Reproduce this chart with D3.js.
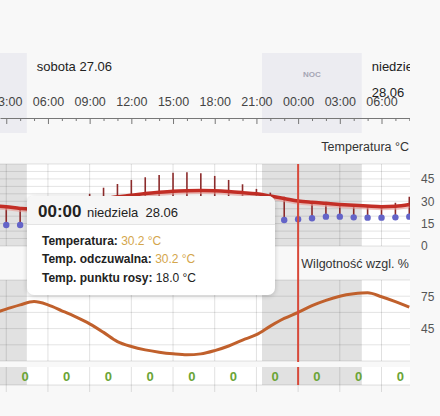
<!DOCTYPE html>
<html>
<head>
<meta charset="utf-8">
<script src="https://cdn.jsdelivr.net/npm/d3@7"></script>
<style>
body { margin: 0; background: #f8f8f8; font-family: "Liberation Sans", Arial, sans-serif; }
#chart { position: relative; width: 440px; height: 416px; overflow: hidden; }
.tip { position: absolute; left: 27px; top: 196px; width: 248px; height: 99px; background: #fff;
       border-radius: 7px; box-shadow: 0 1px 5px rgba(0,0,0,.2); overflow: hidden; color: #222; }
.tip .head { height: 28px; background: #f6f6f6; border-bottom: 1px solid #e4e4e4; position: relative; }
.tip .hour { position: absolute; left: 11px; top: 6px; font-size: 17px; font-weight: bold; }
.tip .day { position: absolute; left: 60px; top: 9px; font-size: 13px; }
.tip .row { position: absolute; left: 15px; font-size: 12px; }
.tip .row b { color: #222; }
.tip .gold { color: #d4a64c; }
</style>
</head>
<body>
<div id="chart"></div>
<script>
// hours since 27.06 00:00
const hours = [2,3,4,5,6,7,8,9,10,11,12,13,14,15,16,17,18,19,20,21,22,23,24,25,26,27,28,29,30,31,32];
const temp = [27.0,26.3,25.2,24.6,25.5,27.0,28.5,30.0,31.5,33.0,34.0,35.2,36.1,36.8,37.1,37.2,37.0,36.5,35.8,35.0,33.5,31.9,30.2,29.3,28.6,27.9,27.3,26.8,26.4,26.6,27.8];
const feels = [27.0,26.3,25.2,24.6,25.5,27.2,30.0,35.0,39.1,41.6,44.3,46.1,47.7,49.2,49.4,48.8,47.0,44.3,41.4,38.3,35.8,33.0,30.2,29.3,28.6,27.9,27.3,26.8,27.5,29.0,33.0];
const dew = [14.3,14.1,14.1,14.3,14.8,15.2,15.5,15.6,15.5,15.3,15.0,14.8,14.6,14.5,14.6,14.9,15.3,15.8,16.3,16.8,17.2,17.4,18.0,18.6,19.7,19.7,19.2,19.0,19.0,19.2,19.7];
const humidity = [59,63,67,70,67,61.5,55.8,49.4,41.5,33,28.4,25.3,23.2,21.7,20.8,21.6,24.6,28.9,34.4,39.4,47.3,54.4,60,66.3,71.2,75,77.2,78.2,74.5,70,64.9];

const precipHours = [3,6,9,12,15,18,21,24,27,30];
const precip = [0,0,0,0,0,0,0,0,0,0];

// nights: [start, end] in hours since 27.06 00:00
const nights = [[-3, 4.48], [21.4, 28.58]];
const dayLabels = [["sobota 27.06"], ["niedziela", "28.06"]];
const dayStarts = [4.48, 28.58];

const tempTicks = [0,15,30,45];
const humTicks = [45,75];

const t0 = new Date(2020, 5, 27, 0, 0);
const at = h => new Date(t0.getTime() + h * 3600e3);
const now = at(24);

const W = 410;
const x = d3.scaleTime().domain([at(2.55), at(32.05)]).range([0, W]);

const svg = d3.select("#chart").append("svg").attr("width", 440).attr("height", 416)
  .style("font-family", '"Liberation Sans", Arial, sans-serif');

svg.append("clipPath").attr("id", "clip").append("rect").attr("x", 0).attr("y", 0).attr("width", W).attr("height", 416);

// ---- header with dates and time axis
const head = svg.append("g").attr("clip-path", "url(#clip)");
head.selectAll("rect.night").data(nights).enter().append("rect")
  .attr("x", d => x(at(d[0]))).attr("width", d => x(at(d[1])) - x(at(d[0])))
  .attr("y", 53).attr("height", 80).attr("fill", "#ececf1");
head.selectAll("text.noc").data(nights.filter(d => x(at(d[0])) > 0)).enter().append("text")
  .attr("x", d => (x(at(d[0])) + x(at(d[1]))) / 2).attr("y", 77)
  .attr("text-anchor", "middle").attr("font-size", 8).attr("font-weight", "bold")
  .attr("fill", "#a5a5b4").text("NOC");

dayLabels.forEach((lines, i) => {
  const t = head.append("text").attr("x", x(at(dayStarts[i])) + 10).attr("font-size", 13).attr("fill", "#222");
  lines.forEach((l, j) => t.append("tspan").attr("x", x(at(dayStarts[i])) + 10).attr("y", 70.5 + j * 26).text(l));
});

const ticksG = head.append("g").attr("transform", "translate(0,118)")
  .call(d3.axisBottom(x).ticks(d3.timeHour.every(1)).tickSize(3).tickSizeOuter(0).tickFormat(""));
ticksG.select(".domain").attr("stroke", "#777");
ticksG.selectAll(".tick line").attr("stroke", "#777")
  .attr("y2", d => d.getHours() % 3 === 0 ? 6 : 3);

const labelsG = svg.append("g").attr("transform", "translate(0,118)")
  .call(d3.axisTop(x).ticks(d3.timeHour.every(3)).tickSize(0).tickPadding(12).tickFormat(d3.timeFormat("%H:%M")));
labelsG.select(".domain").remove();
labelsG.selectAll("text").attr("font-size", 12.5).attr("fill", "#444").attr("font-family", null);

// ---- panel helper
const grid3h = x.ticks(d3.timeHour.every(3));

function panel(top, bottom, y, gridVals) {
  const g = svg.append("g").attr("clip-path", "url(#clip)");
  g.append("rect").attr("x", 0).attr("y", top).attr("width", W).attr("height", bottom - top).attr("fill", "#fff");
  g.selectAll("rect.night").data(nights).enter().append("rect")
    .attr("x", d => x(at(d[0]))).attr("width", d => x(at(d[1])) - x(at(d[0])))
    .attr("y", top).attr("height", bottom - top).attr("fill", "#e1e1e1");
  if (gridVals) {
    g.selectAll("line.h").data(gridVals).enter().append("line")
      .attr("x1", 0).attr("x2", W).attr("y1", d => y(d)).attr("y2", d => y(d))
      .attr("stroke", "rgba(0,0,0,0.11)");
  }
  g.selectAll("line.v").data(grid3h).enter().append("line")
    .attr("x1", d => x(d)).attr("x2", d => x(d)).attr("y1", top).attr("y2", bottom)
    .attr("stroke", "rgba(0,0,0,0.12)");
  return g;
}

// ---- temperature
svg.append("text").attr("x", 409).attr("y", 147).attr("dy", "0.35em").attr("text-anchor", "end")
  .attr("font-size", 12.5).attr("fill", "#333").text("Temperatura °C");

const yT = d3.scaleLinear().domain([0, 55]).range([246, 164]);
const tg = panel(164, 246, yT, d3.range(0, 56, 5));

const rows = hours.map((h, i) => ({ d: at(h), t: temp[i], f: feels[i], dp: dew[i], rh: humidity[i] }));

tg.selectAll("line.stem").data(rows).enter().append("line")
  .attr("x1", d => x(d.d)).attr("x2", d => x(d.d))
  .attr("y1", d => yT(d.dp)).attr("y2", d => yT(d.f))
  .attr("stroke", "#8c2b2b").attr("stroke-width", 1.6);

tg.append("path").datum(rows)
  .attr("d", d3.line().x(d => x(d.d)).y(d => yT(d.t) + 1.5).curve(d3.curveMonotoneX))
  .attr("fill", "none").attr("stroke", "#e99a92").attr("stroke-width", 4).attr("opacity", 0.6);
tg.append("path").datum(rows)
  .attr("d", d3.line().x(d => x(d.d)).y(d => yT(d.t)).curve(d3.curveMonotoneX))
  .attr("fill", "none").attr("stroke", "#c32e26").attr("stroke-width", 3.5);

tg.selectAll("circle.dew").data(rows).enter().append("circle")
  .attr("cx", d => x(d.d)).attr("cy", d => yT(d.dp)).attr("r", 3.2).attr("fill", "#6464c8");

const tAxis = svg.append("g").attr("transform", `translate(${W},0)`)
  .call(d3.axisRight(yT).tickValues(tempTicks).tickSize(0).tickPadding(11));
tAxis.select(".domain").remove();
tAxis.selectAll("text").attr("font-size", 12).attr("fill", "#555").attr("font-family", null);

// ---- humidity
svg.append("text").attr("x", 409).attr("y", 264).attr("dy", "0.35em").attr("text-anchor", "end")
  .attr("font-size", 12.5).attr("fill", "#333").text("Wilgotność wzgl. %");

const yH = d3.scaleLinear().domain([15, 90]).range([361, 280]);
const hg = panel(280, 361, yH, d3.range(15, 91, 15));
hg.append("path").datum(rows)
  .attr("d", d3.line().x(d => x(d.d)).y(d => yH(d.rh)).curve(d3.curveMonotoneX))
  .attr("fill", "none").attr("stroke", "#c0602c").attr("stroke-width", 3);

const hAxis = svg.append("g").attr("transform", `translate(${W},0)`)
  .call(d3.axisRight(yH).tickValues(humTicks).tickSize(0).tickPadding(11));
hAxis.select(".domain").remove();
hAxis.selectAll("text").attr("font-size", 12).attr("fill", "#555").attr("font-family", null);

// ---- precipitation row
const pg = panel(367, 385, null, null);
pg.selectAll("line.tickdown").data(grid3h).enter().append("line")
  .attr("x1", d => x(d)).attr("x2", d => x(d)).attr("y1", 385).attr("y2", 392)
  .attr("stroke", "rgba(0,0,0,0.12)");
pg.append("line").attr("x1", 0).attr("x2", W).attr("y1", 385).attr("y2", 385).attr("stroke", "rgba(0,0,0,0.12)");
pg.selectAll("text.p").data(precipHours).enter().append("text")
  .attr("x", (h, i) => x(at(h + 1.35))).attr("y", 376).attr("dy", "0.35em")
  .attr("text-anchor", "middle").attr("font-size", 13).attr("font-weight", "bold")
  .attr("fill", "#6aa436").text((h, i) => precip[i]);

// ---- current time marker
svg.append("line").attr("x1", x(now)).attr("x2", x(now)).attr("y1", 164).attr("y2", 362)
  .attr("stroke", "#d8493a").attr("stroke-width", 2);
svg.append("line").attr("x1", x(now)).attr("x2", x(now)).attr("y1", 367).attr("y2", 385)
  .attr("stroke", "#d8493a").attr("stroke-width", 2);

// ---- tooltip
const i0 = hours.indexOf(24);
const tip = d3.select("#chart").append("div").attr("class", "tip");
const th = tip.append("div").attr("class", "head");
th.append("span").attr("class", "hour").text(d3.timeFormat("%H:%M")(now));
th.append("span").attr("class", "day").html("niedziela&nbsp;&nbsp;28.06");
const fmt = d3.format(".1f");
const tipRows = [
  ["Temperatura:", temp[i0], true],
  ["Temp. odczuwalna:", feels[i0], true],
  ["Temp. punktu rosy:", dew[i0], false]
];
tipRows.forEach((r, j) => {
  const row = tip.append("div").attr("class", "row").style("top", (38 + j * 18.3) + "px");
  row.append("b").text(r[0]);
  row.append("span").attr("class", r[2] ? "gold" : null).text(" " + fmt(r[1]) + " °C");
});
</script>
</body>
</html>
